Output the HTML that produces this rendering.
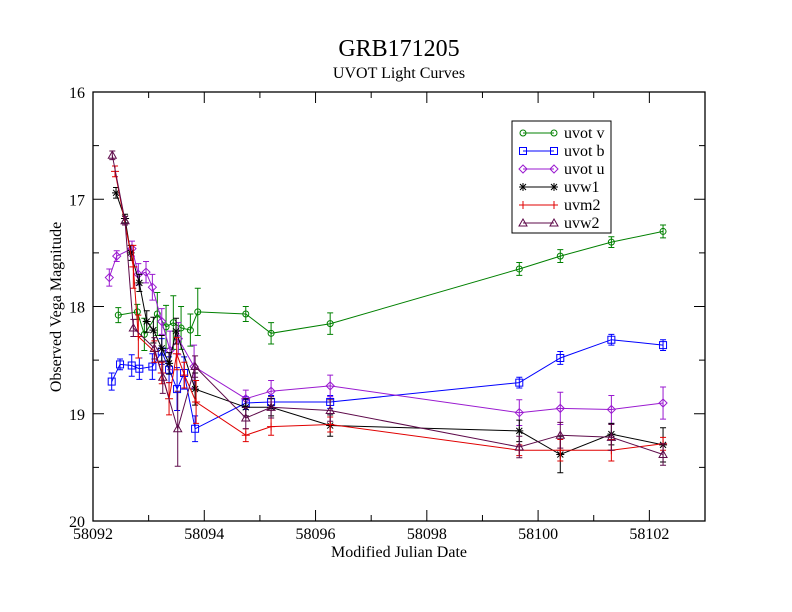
<!DOCTYPE html>
<html><head><meta charset="utf-8"><style>
html,body{margin:0;padding:0;background:#fff;}
svg{display:block;font-family:"Liberation Serif",serif;}
</style></head><body>
<svg id="chart" width="792" height="612" viewBox="0 0 792 612">
<rect width="792" height="612" fill="#fff"/>
<text x="399" y="56" font-size="24" text-anchor="middle">GRB171205</text>
<text x="399" y="78" font-size="16" text-anchor="middle">UVOT Light Curves</text>
<text x="399" y="557" font-size="16" text-anchor="middle">Modified Julian Date</text>
<text transform="translate(61,307) rotate(-90)" font-size="16" text-anchor="middle">Observed Vega Magnitude</text>
<g id="axes"></g>
<g id="series"></g>
<g id="legend"></g>
</svg>
<script>
const xTicks=[58092,58094,58096,58098,58100,58102];
const yTicks=[16,17,18,19,20];
const seriesNames=["uvot v","uvot b","uvot u","uvw1","uvm2","uvw2"];
const vX=[0.455,0.797,0.923,1.156,1.313,1.444,1.583,1.750,1.883,2.746,3.201,4.263,7.662,8.399,9.317,10.246];
const vY=[18.08,18.05,18.26,18.07,18.19,18.15,18.20,18.22,18.05,18.07,18.25,18.16,17.65,17.53,17.40,17.30];
const vE=[0.07,0.07,0.15,0.2,0.2,0.25,0.2,0.15,0.22,0.07,0.1,0.1,0.06,0.06,0.05,0.06];
const bX=[0.336,0.486,0.696,0.833,1.067,1.236,1.367,1.511,1.637,1.835,2.746,3.201,4.263,7.662,8.399,9.317,10.246];
const bY=[18.70,18.54,18.55,18.58,18.56,18.42,18.59,18.77,18.62,19.14,18.90,18.89,18.89,18.71,18.48,18.31,18.36];
const bE=[0.08,0.05,0.1,0.1,0.12,0.12,0.12,0.2,0.15,0.12,0.06,0.06,0.06,0.05,0.06,0.05,0.05];
const uX=[0.293,0.426,0.701,0.815,0.953,1.067,1.236,1.385,1.534,1.817,2.746,3.201,4.263,7.662,8.399,9.317,10.246];
const uY=[17.73,17.53,17.46,17.70,17.68,17.82,18.14,18.41,18.30,18.56,18.86,18.79,18.74,18.99,18.95,18.96,18.90];
const uE=[0.08,0.05,0.07,0.1,0.1,0.12,0.12,0.18,0.15,0.2,0.08,0.1,0.1,0.12,0.15,0.13,0.15];
const w1X=[0.414,0.576,0.678,0.833,0.966,1.085,1.236,1.367,1.493,1.835,2.746,3.201,4.263,7.662,8.399,9.317,10.246];
const w1Y=[16.94,17.18,17.50,17.78,18.14,18.22,18.39,18.53,18.23,18.77,18.94,18.94,19.11,19.16,19.38,19.19,19.29];
const w1E=[0.05,0.04,0.07,0.08,0.1,0.12,0.12,0.1,0.12,0.15,0.08,0.08,0.1,0.1,0.17,0.1,0.16];
const m2X=[0.396,0.725,0.815,1.103,1.236,1.367,1.505,1.642,1.853,2.746,3.201,4.263,7.662,8.399,9.317,10.246];
const m2Y=[16.74,17.63,18.28,18.42,18.62,18.86,18.44,18.64,18.89,19.20,19.12,19.10,19.34,19.34,19.34,19.28];
const m2E=[0.05,0.2,0.2,0.1,0.1,0.15,0.15,0.12,0.2,0.06,0.08,0.07,0.05,0.1,0.1,0.06];
const w2X=[0.347,0.576,0.725,1.103,1.254,1.523,1.835,2.746,3.201,4.263,7.662,8.399,9.317,10.246];
const w2Y=[16.59,17.20,18.20,18.39,18.66,19.14,18.56,19.04,18.94,18.97,19.31,19.20,19.22,19.38];
const w2E=[0.04,0.04,0.08,0.1,0.15,0.35,0.1,0.1,0.1,0.1,0.1,0.12,0.12,0.1];

const X0=93,X1=705,Y0=92,Y1=521,XMIN=58092,XMAX=58103,YMIN=16,YMAX=20;
function sx(d){return X0+(d-XMIN)/(XMAX-XMIN)*(X1-X0);}
function sy(m){return Y0+(m-YMIN)/(YMAX-YMIN)*(Y1-Y0);}
const NS="http://www.w3.org/2000/svg";
function mk(tag,attrs,parent){const e=document.createElementNS(NS,tag);for(const k in attrs)e.setAttribute(k,attrs[k]);parent.appendChild(e);return e;}

const axes=document.getElementById('axes');
const frame=mk('rect',{x:X0,y:Y0,width:X1-X0,height:Y1-Y0,fill:'none',stroke:'#000','stroke-width':1.3},axes);


for(let d=XMIN;d<=XMAX;d++){
  const major=(d-XMIN)%2===0, L=major?11:6, x=sx(d);
  mk('line',{x1:x,y1:Y1,x2:x,y2:Y1-L,stroke:'#000'},axes);
  mk('line',{x1:x,y1:Y0,x2:x,y2:Y0+L,stroke:'#000'},axes);
}
xTicks.forEach(t=>{
  const tx=mk('text',{x:sx(t),y:Y1+18,'font-size':16,'text-anchor':'middle'},axes);
  tx.textContent=t;
  
  
});
for(let m=YMIN;m<=YMAX+1e-9;m+=0.5){
  const major=Math.abs(m-Math.round(m))<1e-9, L=major?11:6, y=sy(m);
  mk('line',{x1:X0,y1:y,x2:X0+L,y2:y,stroke:'#000'},axes);
  mk('line',{x1:X1,y1:y,x2:X1-L,y2:y,stroke:'#000'},axes);
}
yTicks.forEach(t=>{
  const tx=mk('text',{x:X0-8,y:sy(t)+6,'font-size':16,'text-anchor':'end'},axes);
  tx.textContent=t;
  
  
});

const colors=['#008000','#0000ff','#9a1ad0','#000000','#e00000','#5e0a4a'];
const shapes=['circle','square','diamond','star','plus','triangle'];
const data=[[vX,vY,vE],[bX,bY,bE],[uX,uY,uE],[w1X,w1Y,w1E],[m2X,m2Y,m2E],[w2X,w2Y,w2E]];
function marker(g,shape,x,y,c){
  let e;
  if(shape==='circle')e=mk('circle',{cx:x,cy:y,r:3,fill:'none',stroke:c},g);
  else if(shape==='square')e=mk('rect',{x:x-3.5,y:y-3.5,width:7,height:7,fill:'none',stroke:c},g);
  else if(shape==='diamond')e=mk('polygon',{points:`${x},${y-4} ${x+4},${y} ${x},${y+4} ${x-4},${y}`,fill:'none',stroke:c},g);
  else if(shape==='triangle')e=mk('polygon',{points:`${x},${y-4} ${x+4},${y+3} ${x-4},${y+3}`,fill:'none',stroke:c},g);
  else if(shape==='plus')e=mk('path',{d:`M${x-4} ${y}H${x+4}M${x} ${y-4}V${y+4}`,stroke:c},g);
  else e=mk('path',{d:`M${x-4} ${y}H${x+4}M${x} ${y-4}V${y+4}M${x-3} ${y-3}L${x+3} ${y+3}M${x-3} ${y+3}L${x+3} ${y-3}`,stroke:c},g);
  
  
}
const sg=document.getElementById('series');
data.forEach((s,i)=>{
  const [xs,ys,es]=s, c=colors[i];
  const g=mk('g',{},sg);
  
  
  const pts=xs.map((d,j)=>`${sx(XMIN+d).toFixed(1)},${sy(ys[j]).toFixed(1)}`).join(' ');
  const pl=mk('polyline',{points:pts,fill:'none',stroke:c,'stroke-width':1},g);
  
  
  xs.forEach((d,j)=>{
    const x=sx(XMIN+d), y1=sy(ys[j]-es[j]), y2=sy(ys[j]+es[j]);
    const eb=mk('path',{d:`M${x} ${y1}V${y2}M${x-3} ${y1}H${x+3}M${x-3} ${y2}H${x+3}`,stroke:c,fill:'none'},g);
    
    
    marker(g,shapes[i],x,sy(ys[j]),c);
  });
});

const lg=document.getElementById('legend');
mk('rect',{x:512,y:121,width:99,height:112,fill:'#fff',stroke:'#000'},lg);
seriesNames.forEach((n,i)=>{
  const y=133+i*18, c=colors[i];
  const g=mk('g',{},lg);
  
  
  mk('line',{x1:523,y1:y,x2:554,y2:y,stroke:c},g);
  marker(g,shapes[i],523,y,c);
  marker(g,shapes[i],554,y,c);
  const t=mk('text',{x:564,y:y+5,'font-size':16},g);
  t.textContent=n;
});
</script>
</body></html>
